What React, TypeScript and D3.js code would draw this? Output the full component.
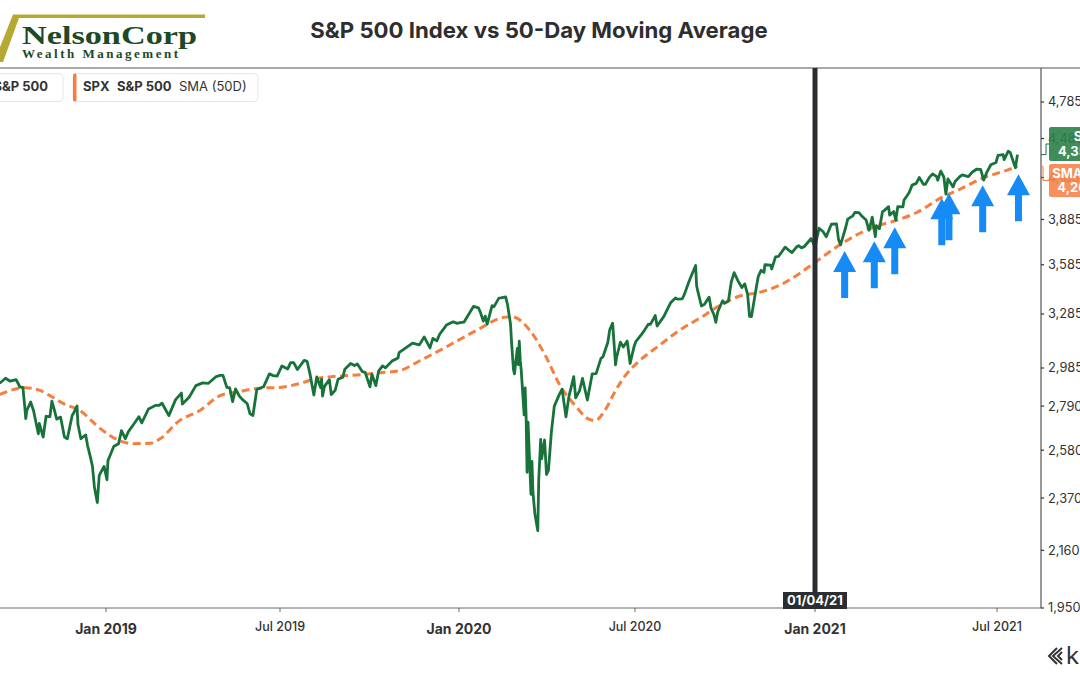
import React from 'react';
import * as d3 from 'd3';

// ---------- DATA ----------
const SPX: [string, number][] = [
  ['2018-09-14', 2905], ['2018-09-20', 2931], ['2018-09-25', 2916], ['2018-10-01', 2924], ['2018-10-05', 2886],
  ['2018-10-08', 2884], ['2018-10-10', 2786], ['2018-10-11', 2729], ['2018-10-12', 2767], ['2018-10-16', 2810],
  ['2018-10-19', 2768], ['2018-10-24', 2656], ['2018-10-25', 2706], ['2018-10-29', 2641], ['2018-11-01', 2740],
  ['2018-11-05', 2738], ['2018-11-07', 2814], ['2018-11-09', 2781], ['2018-11-12', 2726], ['2018-11-16', 2736],
  ['2018-11-20', 2641], ['2018-11-23', 2633], ['2018-11-28', 2744], ['2018-11-30', 2760], ['2018-12-03', 2790],
  ['2018-12-04', 2700], ['2018-12-07', 2633], ['2018-12-12', 2651], ['2018-12-14', 2600], ['2018-12-17', 2546],
  ['2018-12-19', 2507], ['2018-12-21', 2417], ['2018-12-24', 2351], ['2018-12-26', 2467], ['2018-12-31', 2507],
  ['2019-01-03', 2448], ['2019-01-04', 2532], ['2019-01-10', 2597], ['2019-01-15', 2610], ['2019-01-18', 2671],
  ['2019-01-22', 2633], ['2019-01-25', 2665], ['2019-01-31', 2704], ['2019-02-05', 2738], ['2019-02-08', 2708],
  ['2019-02-15', 2776], ['2019-02-22', 2793], ['2019-02-26', 2794], ['2019-03-01', 2804], ['2019-03-08', 2743],
  ['2019-03-15', 2822], ['2019-03-21', 2855], ['2019-03-22', 2800], ['2019-03-29', 2834], ['2019-04-05', 2893],
  ['2019-04-12', 2907], ['2019-04-18', 2905], ['2019-04-26', 2940], ['2019-04-30', 2946], ['2019-05-03', 2946],
  ['2019-05-07', 2884], ['2019-05-10', 2881], ['2019-05-13', 2812], ['2019-05-16', 2876], ['2019-05-20', 2840],
  ['2019-05-23', 2823], ['2019-05-28', 2803], ['2019-05-31', 2752], ['2019-06-03', 2744], ['2019-06-07', 2873],
  ['2019-06-14', 2887], ['2019-06-20', 2954], ['2019-06-24', 2945], ['2019-06-28', 2942], ['2019-07-03', 2996],
  ['2019-07-09', 2980], ['2019-07-12', 3014], ['2019-07-15', 3014], ['2019-07-19', 2977], ['2019-07-26', 3026],
  ['2019-07-29', 3021], ['2019-08-01', 2954], ['2019-08-05', 2845], ['2019-08-08', 2938], ['2019-08-12', 2883],
  ['2019-08-13', 2926], ['2019-08-14', 2840], ['2019-08-16', 2889], ['2019-08-21', 2924], ['2019-08-23', 2847],
  ['2019-08-27', 2869], ['2019-08-30', 2926], ['2019-09-04', 2937], ['2019-09-06', 2979], ['2019-09-12', 3009],
  ['2019-09-16', 2998], ['2019-09-19', 3006], ['2019-09-24', 2966], ['2019-09-27', 2962], ['2019-10-02', 2887],
  ['2019-10-04', 2952], ['2019-10-08', 2893], ['2019-10-11', 2970], ['2019-10-15', 2996], ['2019-10-18', 2986],
  ['2019-10-25', 3023], ['2019-10-31', 3038], ['2019-11-01', 3067], ['2019-11-08', 3093], ['2019-11-15', 3120],
  ['2019-11-22', 3110], ['2019-11-27', 3154], ['2019-12-03', 3093], ['2019-12-06', 3146], ['2019-12-10', 3132],
  ['2019-12-13', 3169], ['2019-12-20', 3221], ['2019-12-27', 3240], ['2019-12-31', 3231], ['2020-01-03', 3235],
  ['2020-01-07', 3238], ['2020-01-10', 3265], ['2020-01-17', 3330], ['2020-01-22', 3321], ['2020-01-24', 3295],
  ['2020-01-27', 3244], ['2020-01-29', 3273], ['2020-01-31', 3226], ['2020-02-05', 3334], ['2020-02-07', 3328],
  ['2020-02-12', 3379], ['2020-02-14', 3380], ['2020-02-19', 3386], ['2020-02-21', 3338], ['2020-02-24', 3226],
  ['2020-02-25', 3128], ['2020-02-27', 2979], ['2020-02-28', 2954], ['2020-03-02', 3091], ['2020-03-03', 3003],
  ['2020-03-04', 3130], ['2020-03-05', 3024], ['2020-03-06', 2972], ['2020-03-09', 2747], ['2020-03-10', 2882],
  ['2020-03-11', 2741], ['2020-03-12', 2481], ['2020-03-13', 2711], ['2020-03-16', 2386], ['2020-03-17', 2529],
  ['2020-03-18', 2398], ['2020-03-20', 2305], ['2020-03-23', 2237], ['2020-03-24', 2447], ['2020-03-26', 2630],
  ['2020-03-27', 2541], ['2020-03-30', 2627], ['2020-04-01', 2471], ['2020-04-03', 2489], ['2020-04-06', 2664],
  ['2020-04-09', 2790], ['2020-04-14', 2846], ['2020-04-17', 2875], ['2020-04-21', 2737], ['2020-04-24', 2837],
  ['2020-04-29', 2940], ['2020-05-01', 2831], ['2020-05-05', 2868], ['2020-05-08', 2930], ['2020-05-13', 2820],
  ['2020-05-18', 2954], ['2020-05-22', 2955], ['2020-05-27', 3036], ['2020-05-29', 3044], ['2020-06-03', 3123],
  ['2020-06-05', 3194], ['2020-06-08', 3232], ['2020-06-11', 3002], ['2020-06-12', 3041], ['2020-06-16', 3125],
  ['2020-06-19', 3098], ['2020-06-23', 3131], ['2020-06-26', 3009], ['2020-06-30', 3100], ['2020-07-02', 3130],
  ['2020-07-08', 3170], ['2020-07-10', 3185], ['2020-07-15', 3227], ['2020-07-17', 3225], ['2020-07-22', 3276],
  ['2020-07-24', 3216], ['2020-07-31', 3271], ['2020-08-05', 3328], ['2020-08-07', 3351], ['2020-08-12', 3380],
  ['2020-08-14', 3373], ['2020-08-19', 3375], ['2020-08-21', 3397], ['2020-08-26', 3479], ['2020-08-28', 3508],
  ['2020-09-02', 3580], ['2020-09-03', 3455], ['2020-09-04', 3427], ['2020-09-08', 3332], ['2020-09-10', 3339],
  ['2020-09-11', 3341], ['2020-09-16', 3385], ['2020-09-18', 3319], ['2020-09-21', 3281], ['2020-09-23', 3237],
  ['2020-09-25', 3298], ['2020-09-30', 3363], ['2020-10-02', 3348], ['2020-10-06', 3361], ['2020-10-09', 3477],
  ['2020-10-12', 3535], ['2020-10-16', 3484], ['2020-10-20', 3443], ['2020-10-23', 3465], ['2020-10-26', 3401],
  ['2020-10-28', 3271], ['2020-10-30', 3270], ['2020-11-04', 3443], ['2020-11-06', 3510], ['2020-11-09', 3550],
  ['2020-11-12', 3537], ['2020-11-13', 3585], ['2020-11-19', 3582], ['2020-11-20', 3558], ['2020-11-24', 3635],
  ['2020-11-27', 3638], ['2020-12-04', 3699], ['2020-12-09', 3672], ['2020-12-11', 3663], ['2020-12-16', 3701],
  ['2020-12-18', 3709], ['2020-12-21', 3694], ['2020-12-24', 3703], ['2020-12-31', 3756], ['2021-01-04', 3701],
  ['2021-01-08', 3825], ['2021-01-12', 3801], ['2021-01-15', 3768], ['2021-01-20', 3852], ['2021-01-25', 3855],
  ['2021-01-27', 3750], ['2021-01-29', 3714], ['2021-02-03', 3830], ['2021-02-05', 3887], ['2021-02-10', 3910],
  ['2021-02-12', 3934], ['2021-02-16', 3933], ['2021-02-19', 3907], ['2021-02-23', 3881], ['2021-02-25', 3829],
  ['2021-02-26', 3811], ['2021-03-01', 3901], ['2021-03-04', 3768], ['2021-03-05', 3842], ['2021-03-08', 3821],
  ['2021-03-11', 3939], ['2021-03-12', 3943], ['2021-03-17', 3974], ['2021-03-18', 3915], ['2021-03-22', 3940],
  ['2021-03-24', 3881], ['2021-03-26', 3975], ['2021-03-31', 3973], ['2021-04-01', 4020], ['2021-04-06', 4074],
  ['2021-04-09', 4129], ['2021-04-13', 4142], ['2021-04-16', 4185], ['2021-04-20', 4135], ['2021-04-22', 4135],
  ['2021-04-26', 4188], ['2021-04-29', 4211], ['2021-05-03', 4192], ['2021-05-04', 4165], ['2021-05-07', 4233],
  ['2021-05-10', 4189], ['2021-05-12', 4063], ['2021-05-14', 4174], ['2021-05-18', 4128], ['2021-05-19', 4116],
  ['2021-05-21', 4156], ['2021-05-26', 4195], ['2021-05-28', 4204], ['2021-06-03', 4192], ['2021-06-07', 4226],
  ['2021-06-11', 4247], ['2021-06-15', 4246], ['2021-06-18', 4166], ['2021-06-21', 4224], ['2021-06-25', 4281],
  ['2021-06-30', 4298], ['2021-07-02', 4352], ['2021-07-07', 4358], ['2021-07-08', 4320], ['2021-07-12', 4385],
  ['2021-07-14', 4374], ['2021-07-16', 4327], ['2021-07-19', 4258], ['2021-07-21', 4358.69],
];

const SMA50: [string, number][] = [
  ['2018-09-14', 2848], ['2018-10-10', 2882], ['2018-10-25', 2870], ['2018-11-05', 2842], ['2018-11-20', 2800],
  ['2018-12-06', 2768], ['2018-12-26', 2685], ['2019-01-16', 2624], ['2019-01-30', 2610], ['2019-02-17', 2612],
  ['2019-02-27', 2633], ['2019-03-19', 2719], ['2019-04-09', 2768], ['2019-04-30', 2842], ['2019-05-20', 2863],
  ['2019-06-10', 2880], ['2019-07-01', 2884], ['2019-07-21', 2903], ['2019-08-08', 2930], ['2019-08-25', 2940],
  ['2019-09-22', 2950], ['2019-10-13', 2960], ['2019-11-02', 2972], ['2019-11-23', 3025], ['2019-12-13', 3079],
  ['2020-01-02', 3138], ['2020-01-23', 3200], ['2020-02-13', 3260], ['2020-02-25', 3270], ['2020-03-15', 3190],
  ['2020-03-31', 3050], ['2020-04-15', 2893], ['2020-05-01', 2790], ['2020-05-14', 2727], ['2020-05-21', 2719],
  ['2020-05-31', 2768], ['2020-06-11', 2868], ['2020-06-21', 2945], ['2020-07-06', 3025], ['2020-07-26', 3106],
  ['2020-08-16', 3191], ['2020-09-06', 3260], ['2020-09-27', 3335], ['2020-10-17', 3390], ['2020-11-07', 3413],
  ['2020-11-28', 3456], ['2020-12-19', 3530], ['2021-01-04', 3600], ['2021-02-01', 3730], ['2021-03-03', 3835],
  ['2021-03-23', 3875], ['2021-04-14', 3935], ['2021-05-08', 4040], ['2021-05-26', 4100], ['2021-06-17', 4180],
  ['2021-07-11', 4240], ['2021-07-21', 4268.4],
];

const Y_TICKS = [1950, 2160, 2370, 2580, 2790, 2985, 3285, 3585, 3885, 4185, 4485, 4785];
const X_TICK_DATES = ['2019-01-02', '2019-07-01', '2020-01-02', '2020-07-01', '2021-01-04', '2021-07-01'];
const X_TICK_LABELS = ['Jan 2019', 'Jul 2019', 'Jan 2020', 'Jul 2020', 'Jan 2021', 'Jul 2021'];
const X_TICK_MAJOR = [true, false, true, false, true, false];

const MARKER_DATE = '2021-01-04';
const MARKER_LABEL = '01/04/21';

// arrow tips: [date, index level]
const ARROWS: [string, number][] = [
  ['2021-02-02', 3673], ['2021-03-03', 3738], ['2021-03-23', 3832], ['2021-05-08', 4034],
  ['2021-05-15', 4070], ['2021-06-17', 4128], ['2021-07-22', 4209],
];

const TITLE = 'S&P 500 Index vs 50-Day Moving Average';

// ---------- CHART ----------
const W = 1080;
const H = 675;
const PLOT_TOP = 68;
const PLOT_BOTTOM = 608;
const PLOT_RIGHT = 1041;

const parse = d3.timeParse('%Y-%m-%d');
const FONT = 'Inter, "Noto Sans", Roboto, sans-serif';
const SERIF = '"Liberation Serif", "DejaVu Serif", serif';

const GREEN = '#17733a';
const ORANGE = '#f57f3e';
const BLUE = '#168af5';
const DARK = '#2a2e33';

export default function App() {
  const x = d3
    .scaleTime()
    .domain(X_TICK_DATES.map((d) => parse(d) as Date))
    .range([106, 280, 459, 635, 815, 997]);
  const y = d3.scaleLog().domain([1950, 4785]).range([PLOT_BOTTOM, 102]);

  const spx = SPX.map(([d, v]) => ({ date: parse(d) as Date, v }));
  const sma = SMA50.map(([d, v]) => ({ date: parse(d) as Date, v }));

  const spxLine = d3
    .line<{ date: Date; v: number }>()
    .x((d) => x(d.date))
    .y((d) => y(d.v))
    .curve(d3.curveLinear);
  const smaLine = d3
    .line<{ date: Date; v: number }>()
    .x((d) => x(d.date))
    .y((d) => y(d.v))
    .curve(d3.curveMonotoneX);

  const markerX = x(parse(MARKER_DATE) as Date);
  const fmtAxis = d3.format(',');
  const fmtVal = d3.format(',.2f');
  const lastSpx = spx[spx.length - 1];
  const lastSma = sma[sma.length - 1];

  const arrowPath = (ax: number, ay: number) => {
    const L = 47, hw = 11.5, hh = 21, sw = 3.5;
    return `M${ax},${ay} L${ax + hw},${ay + hh} L${ax + sw},${ay + hh} L${ax + sw},${ay + L} L${ax - sw},${ay + L} L${ax - sw},${ay + hh} L${ax - hw},${ay + hh} Z`;
  };

  const greenBox = { x: 1049, y: 127, w: 76, h: 34 };
  const orangeBox = { x: 1049, y: 164, w: 76, h: 33 };
  const ySpxLast = y(lastSpx.v);
  const ySmaLast = y(lastSma.v);

  return (
    <svg
      width={W}
      height={H}
      viewBox={`0 0 ${W} ${H}`}
      style={{ position: 'absolute', left: 0, top: 0, background: '#fff', fontFamily: FONT }}
    >
      <defs>
        <clipPath id="plotClip">
          <rect x={0} y={PLOT_TOP} width={PLOT_RIGHT} height={PLOT_BOTTOM - PLOT_TOP} />
        </clipPath>
      </defs>
      <rect x={0} y={0} width={W} height={H} fill="#fff" />

      {/* Logo */}
      <polygon points="-6,62 3,62 19,18 205,18 205,14.5 13,14.5" fill="#b5a934" />
      <text x={22} y={43.5} fontFamily={SERIF} fontWeight={700} fontSize={25.5} fill="#1d4a26" textLength={175} lengthAdjust="spacingAndGlyphs">
        NelsonCorp
      </text>
      <text x={22} y={58} fontFamily={SERIF} fontWeight={700} fontSize={13} fill="#1d4a26" textLength={156} lengthAdjust="spacing">
        Wealth Management
      </text>

      {/* Title */}
      <text x={539} y={38} textAnchor="middle" fontSize={22.2} fontWeight={700} fill="#2e2e2e">
        {TITLE}
      </text>

      {/* header separator */}
      <line x1={0} x2={W} y1={PLOT_TOP} y2={PLOT_TOP} stroke="#8c8c8c" strokeWidth={1.6} />

      {/* Legend */}
      <rect x={-20} y={73.5} width={83} height={28} rx={4} fill="#fff" stroke="#e6e6e6" />
      <text x={48} y={91} textAnchor="end" fontSize={13} fontWeight={700} fill="#333">
        SPX   S&amp;P 500
      </text>
      <rect x={73} y={73.5} width={185} height={28} rx={4} fill="#fff" stroke="#e6e6e6" />
      <rect x={73} y={73.5} width={3.5} height={28} rx={1.5} fill={ORANGE} />
      <text x={83} y={91} fontSize={13} fill="#333">
        <tspan fontWeight={700}>SPX</tspan>
        <tspan x={117} fontWeight={700}>S&amp;P 500</tspan>
        <tspan x={179} fontWeight={400}>SMA (50D)</tspan>
      </text>

      {/* Lines */}
      <g clipPath="url(#plotClip)">
        <path d={smaLine(sma) || ''} fill="none" stroke={ORANGE} strokeWidth={3} strokeDasharray="8,4.5" />
        <path d={spxLine(spx) || ''} fill="none" stroke={GREEN} strokeWidth={2.8} strokeLinejoin="round" />
      </g>

      {/* Marker line */}
      <line x1={markerX} x2={markerX} y1={PLOT_TOP} y2={592} stroke={DARK} strokeWidth={5} />

      {/* Arrows */}
      {ARROWS.map(([d, v], i) => (
        <path key={i} d={arrowPath(x(parse(d) as Date), y(v))} fill={BLUE} />
      ))}

      {/* Bottom axis */}
      <line x1={0} x2={PLOT_RIGHT} y1={PLOT_BOTTOM} y2={PLOT_BOTTOM} stroke="#6b6b6b" strokeWidth={1} />
      {X_TICK_DATES.map((d, i) => {
        const tx = x(parse(d) as Date);
        return (
          <g key={d}>
            <line x1={tx} x2={tx} y1={PLOT_BOTTOM} y2={PLOT_BOTTOM + 4} stroke="#6b6b6b" />
            <text
              x={tx}
              y={X_TICK_MAJOR[i] ? 634 : 630.5}
              textAnchor="middle"
              fontSize={X_TICK_MAJOR[i] ? 14 : 12.5}
              fontWeight={X_TICK_MAJOR[i] ? 700 : 500}
              fill="#333"
            >
              {X_TICK_LABELS[i]}
            </text>
          </g>
        );
      })}

      {/* Marker date label */}
      <rect x={markerX - 32} y={592} width={64} height={17} fill={DARK} />
      <text x={markerX} y={605} textAnchor="middle" fontSize={13} fontWeight={700} fill="#fff">
        {MARKER_LABEL}
      </text>

      {/* Right axis */}
      <line x1={PLOT_RIGHT} x2={PLOT_RIGHT} y1={PLOT_TOP} y2={PLOT_BOTTOM} stroke="#555" strokeWidth={1.2} />
      {Y_TICKS.map((t) => (
        <g key={t}>
          <line x1={PLOT_RIGHT} x2={PLOT_RIGHT + 3} y1={y(t)} y2={y(t)} stroke="#333" strokeWidth={1.2} />
          <text x={1048} y={y(t)} dy="0.35em" fontSize={12.8} fill="#333">
            {fmtAxis(t)}
          </text>
        </g>
      ))}

      {/* Last value labels */}
      <path
        d={`M${PLOT_RIGHT},${ySpxLast} H1046 V${greenBox.y + greenBox.h / 2} H${greenBox.x}`}
        fill="none"
        stroke={GREEN}
        strokeWidth={1}
      />
      <path
        d={`M${PLOT_RIGHT},${ySmaLast} H1043 V${orangeBox.y + orangeBox.h / 2} H${orangeBox.x}`}
        fill="none"
        stroke={ORANGE}
        strokeWidth={1}
      />
      <rect x={greenBox.x} y={greenBox.y} width={greenBox.w} height={greenBox.h} rx={2} fill="#2c8049" fillOpacity={0.9} />
      <rect x={orangeBox.x} y={orangeBox.y} width={orangeBox.w} height={orangeBox.h} rx={2} fill="#f7834a" fillOpacity={0.9} />
      <text x={greenBox.x + greenBox.w / 2} y={141} textAnchor="middle" fontSize={13} fontWeight={700} fill="#fff">
        SPX
      </text>
      <text x={greenBox.x + greenBox.w / 2} y={155.5} textAnchor="middle" fontSize={13} fontWeight={700} fill="#fff">
        {fmtVal(lastSpx.v)}
      </text>
      <text x={orangeBox.x + orangeBox.w / 2} y={177.5} textAnchor="middle" fontSize={13} fontWeight={700} fill="#fff">
        SMA (50D)
      </text>
      <text x={orangeBox.x + orangeBox.w / 2} y={191.5} textAnchor="middle" fontSize={13} fontWeight={700} fill="#fff">
        {fmtVal(lastSma.v)}
      </text>

      {/* Koyfin mark */}
      <g fill="none" stroke="#333" strokeWidth={2}>
        <path d="M1062,648 L1053,656 L1062,664" />
        <path d="M1057,648 L1049,656 L1057,664" />
        <path d="M1062,652 L1058,656 L1062,660" />
      </g>
      <text x={1066} y={664} fontSize={24} fill="#333">
        k
      </text>
    </svg>
  );
}
